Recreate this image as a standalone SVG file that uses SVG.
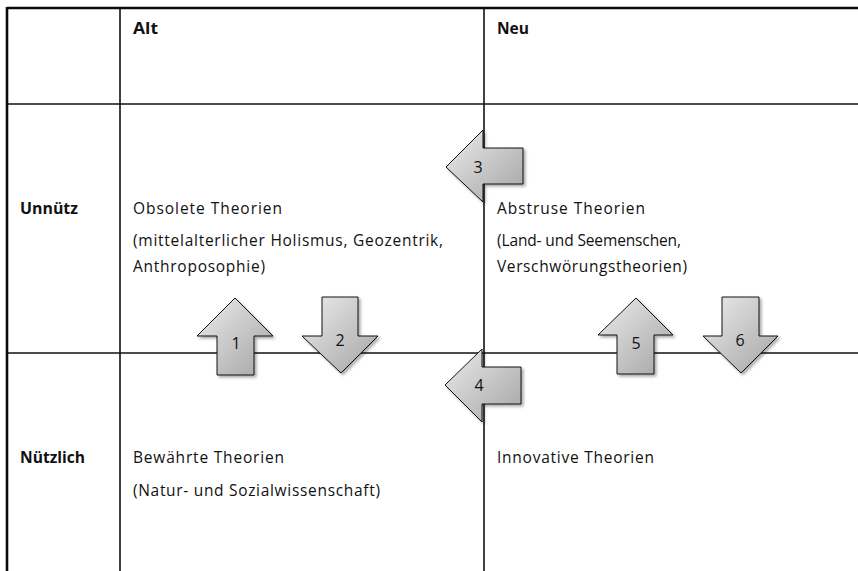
<svg xmlns="http://www.w3.org/2000/svg" width="858" height="571" viewBox="0 0 858 571">
<defs>
<linearGradient id="g" x1="0" y1="0" x2="1" y2="1">
<stop offset="0" stop-color="#ececec"/>
<stop offset="1" stop-color="#a4a4a4"/>
</linearGradient>
<filter id="sh" x="-20%" y="-20%" width="150%" height="150%">
<feDropShadow dx="2" dy="2" stdDeviation="1.5" flood-color="#000" flood-opacity="0.35"/>
</filter>
<style>
.t{font-family:"Open Sans",Lato,"Liberation Sans",sans-serif;font-size:15.5px;fill:#111}
.b{font-weight:bold}
.ln{stroke:#111;stroke-width:1.6;fill:none}
.brd{stroke:#0a0a0a;stroke-width:2.6;fill:none}
.arr{fill:url(#g);stroke:#111;stroke-width:1;filter:url(#sh)}
.n{font-family:"Open Sans",Lato,"Liberation Sans",sans-serif;font-size:16px;fill:#111;text-anchor:middle}
</style>
</defs>
<rect width="858" height="571" fill="#fff"/>
<g id="grid">
<line class="brd" x1="7" y1="8" x2="858" y2="8"/>
<line class="brd" x1="7" y1="7" x2="7" y2="571"/>
<line class="ln" x1="120" y1="8" x2="120" y2="571"/>
<line class="ln" x1="484" y1="8" x2="484" y2="571"/>
<line class="ln" x1="7" y1="104" x2="858" y2="104"/>
<line class="ln" x1="7" y1="353" x2="858" y2="353"/>
</g>
<g id="header-alt"><text class="t b" x="133" y="34" textLength="25" lengthAdjust="spacingAndGlyphs">Alt</text></g>
<g id="header-neu"><text class="t b" x="497" y="34" textLength="32" lengthAdjust="spacingAndGlyphs">Neu</text></g>
<g id="row-unnuetz"><text class="t b" x="20" y="214" textLength="58" lengthAdjust="spacingAndGlyphs">Unnütz</text></g>
<g id="row-nuetzlich"><text class="t b" x="20" y="463" textLength="65" lengthAdjust="spacingAndGlyphs">Nützlich</text></g>
<g id="obsolete">
<text class="t" x="133" y="214" textLength="149" lengthAdjust="spacing">Obsolete Theorien</text>
<text class="t" x="133" y="246" textLength="310" lengthAdjust="spacing">(mittelalterlicher Holismus, Geozentrik,</text>
<text class="t" x="133" y="272" textLength="132" lengthAdjust="spacing">Anthroposophie)</text>
</g>
<g id="abstruse">
<text class="t" x="497" y="214" textLength="148" lengthAdjust="spacing">Abstruse Theorien</text>
<text class="t" x="497" y="246" textLength="184" lengthAdjust="spacing">(Land- und Seemenschen,</text>
<text class="t" x="497" y="272" textLength="190" lengthAdjust="spacing">Verschwörungstheorien)</text>
</g>
<g id="bewaehrt">
<text class="t" x="133" y="463" textLength="151" lengthAdjust="spacing">Bewährte Theorien</text>
<text class="t" x="133" y="496" textLength="247" lengthAdjust="spacing">(Natur- und Sozialwissenschaft)</text>
</g>
<g id="innovativ">
<text class="t" x="497" y="463" textLength="157" lengthAdjust="spacing">Innovative Theorien</text>
</g>
<g id="connectors">
<g id="arrow1"><polygon class="arr" points="235,298 273,336 254,336 254,375 217,375 217,336 197,336"/><text class="n" x="236" y="349">1</text></g>
<g id="arrow2"><polygon class="arr" points="322,297 358,297 358,336 378,336 341,373 302,336 322,336"/><text class="n" x="340" y="346">2</text></g>
<g id="arrow3"><polygon class="arr" points="446,167 483,130 483,148 523,148 523,184 483,184 483,202"/><text class="n" x="478" y="173">3</text></g>
<g id="arrow4"><polygon class="arr" points="445,385 482,349 482,367 521,367 521,404 482,404 482,422"/><text class="n" x="479" y="391">4</text></g>
<g id="arrow5"><polygon class="arr" points="636,298 673,335 654,335 654,374 617,374 617,335 598,335"/><text class="n" x="636" y="349">5</text></g>
<g id="arrow6"><polygon class="arr" points="722,297 759,297 759,336 778,336 741,373 703,336 722,336"/><text class="n" x="740" y="346">6</text></g>
</g>
</svg>
